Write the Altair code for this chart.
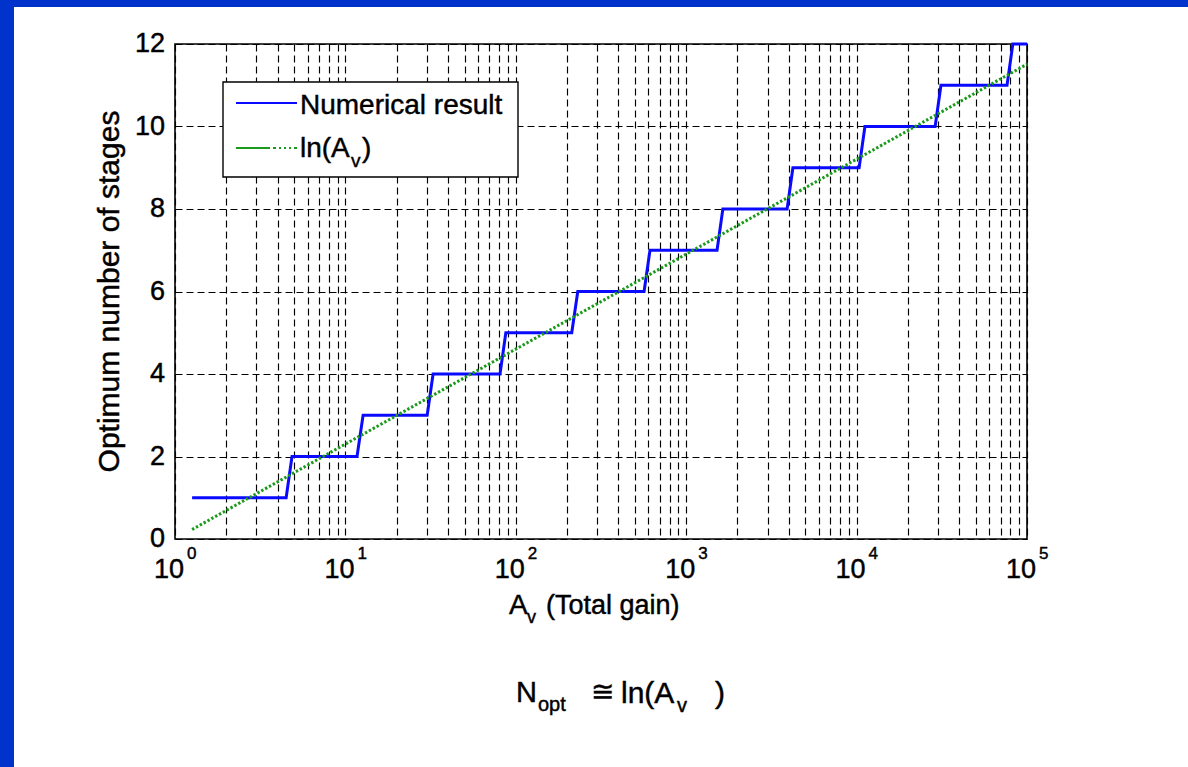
import altair as alt
import pandas as pd

# ---------------- data ----------------
# Numerical result (staircase), total gain vs optimum number of stages
step_gain = [1.26, 4.49, 4.86, 11.7, 12.7, 30.2, 32.7, 80.8, 87.4, 213, 231,
             566, 613, 1517, 1641, 3910, 4229, 10346, 11190, 28900, 31260,
             76350, 82580, 100000]
step_stages = [1, 1, 2, 2, 3, 3, 4, 4, 5, 5, 6, 6, 7, 7, 8, 8, 9, 9, 10, 10,
               11, 11, 12, 12]

# ln(Av) reference line (straight on a log-x axis): end points
ln_gain = [1.26, 100000]
ln_stages = [0.23, 11.51]

# axis ticks
x_tick_values = [1, 2, 3, 4, 5, 6, 7, 8, 9,
                 10, 20, 30, 40, 50, 60, 70, 80, 90,
                 100, 200, 300, 400, 500, 600, 700, 800, 900,
                 1000, 2000, 3000, 4000, 5000, 6000, 7000, 8000, 9000,
                 10000, 20000, 30000, 40000, 50000, 60000, 70000, 80000, 90000,
                 100000]
decade_values = [1, 10, 100, 1000, 10000, 100000]
decade_base = ["10", "10", "10", "10", "10", "10"]
decade_exponents = ["0", "1", "2", "3", "4", "5"]
y_tick_values = [0, 2, 4, 6, 8, 10, 12]
y_tick_labels = ["0", "2", "4", "6", "8", "10", "12"]

# ---------------- layout ----------------
FONT = "Liberation Sans"
L, T = 175, 44          # plot area origin in the page
W, H = 852, 495         # plot area size
PAGE_W, PAGE_H = 1188, 767
BLUE_BG = "#0033CC"
TXT_STROKE = 0.45       # slight emboldening, like the rasterised original

step_df = pd.DataFrame({"gain": step_gain, "stages": step_stages,
                        "order": list(range(len(step_gain)))})
ln_df = pd.DataFrame({"gain": ln_gain, "stages": ln_stages,
                      "order": list(range(len(ln_gain)))})
dec_df = pd.DataFrame({"gain": decade_values, "base": decade_base,
                       "exp": decade_exponents})
ytk_df = pd.DataFrame({"stages": y_tick_values, "lab": y_tick_labels})

x_scale = alt.Scale(type="log", domain=[1, 100000], nice=False)
y_scale = alt.Scale(domain=[0, 12], nice=False, zero=False)

x_axis = alt.Axis(
    values=x_tick_values, labels=False,
    title=None, grid=True, gridDash=[7, 4], gridColor="#000000", gridWidth=1.15,
    gridOpacity=1, ticks=False, tickSize=0, domain=False,
)
y_axis = alt.Axis(
    values=y_tick_values, labels=False,
    title=None, grid=True, gridDash=[7, 4], gridColor="#000000", gridWidth=1.15,
    gridOpacity=1, ticks=False, tickSize=0, domain=False,
)

X_ENC = alt.X("gain:Q", scale=x_scale, axis=x_axis)
Y_ENC = alt.Y("stages:Q", scale=y_scale, axis=y_axis)

blue_line = alt.Chart(step_df).mark_line(
    color="#0A0AFF", strokeWidth=3
).encode(x=X_ENC, y=Y_ENC, order="order:Q")

green_line = alt.Chart(ln_df).mark_line(
    color="#1A9A1A", strokeWidth=3, strokeDash=[2.4, 2], strokeCap="butt"
).encode(x=X_ENC, y=Y_ENC, order="order:Q")

TXT_KW = dict(font=FONT, color="#000000", stroke="#000000", strokeWidth=TXT_STROKE)

# x tick labels: "10" plus raised exponent, positioned through the x scale
dec_base = alt.Chart(dec_df).mark_text(
    fontSize=27, align="center", baseline="alphabetic", dx=-6, **TXT_KW
).encode(x=X_ENC, y=alt.value(578 - T), text="base:N")
dec_exp = alt.Chart(dec_df).mark_text(
    fontSize=17, align="left", baseline="alphabetic", dx=12, **TXT_KW
).encode(x=X_ENC, y=alt.value(559 - T), text="exp:N")

# y tick labels, positioned through the y scale
y_labels = alt.Chart(ytk_df).mark_text(
    fontSize=27, align="right", baseline="middle", **TXT_KW
).encode(x=alt.value(-10), y=Y_ENC, text="lab:N")


def one():
    return alt.Data(values=[{"k": 0}])


def txt(s, X, Y, size, align="left", baseline="alphabetic", angle=0):
    return alt.Chart(one()).mark_text(
        text=s, fontSize=size, align=align, baseline=baseline, angle=angle, **TXT_KW
    ).encode(x=alt.value(X - L), y=alt.value(Y - T))


def rect(X1, X2, Y1, Y2, fill, stroke=None, sw=0):
    kw = dict(fill=fill, strokeWidth=sw)
    if stroke:
        kw["stroke"] = stroke
    return alt.Chart(one()).mark_rect(**kw).encode(
        x=alt.value(X1 - L), x2=alt.value(X2 - L),
        y=alt.value(Y1 - T), y2=alt.value(Y2 - T))


def hline(X1, X2, Y, color, width, dash=None):
    kw = dict(color=color, strokeWidth=width)
    if dash:
        kw["strokeDash"] = dash
    return alt.Chart(one()).mark_rule(**kw).encode(
        x=alt.value(X1 - L), x2=alt.value(X2 - L), y=alt.value(Y - T))


# legend box
legend = [
    rect(223, 518, 82, 177, "#FFFFFF", "#000000", 1.4),
    hline(236, 297, 103, "#0A0AFF", 2),
    hline(236, 297, 148, "#1A9A1A", 2, [34, 3, 3, 3, 2, 3, 2, 3, 2, 3]),
    txt("Numerical result", 300, 114, 28),
    txt("ln(A", 300, 157, 28),
    txt("v", 351, 167, 19),
    txt(")", 362, 157, 28),
]

# axis titles
titles = [
    txt("Optimum number of stages", 110, (T + T + H) / 2, 30,
        align="center", baseline="middle", angle=270),
    txt("A", 509, 614, 28),
    txt("v", 527, 623, 18),
    txt("(Total gain)", 546, 614, 27),
]

# formula below the chart
formula = [
    txt("N", 516, 702, 29),
    txt("opt", 538, 711, 20),
    txt("\u2245", 591, 701, 28),
    txt("ln(A", 621, 703, 30),
    txt("v", 677, 712, 20),
    txt(")", 715, 703, 30),
]

# slide border (blue bands)
bands = [
    rect(0, 14, 0, PAGE_H, BLUE_BG),
    rect(0, PAGE_W, 0, 7, BLUE_BG),
]

chart = alt.layer(
    blue_line, green_line, *legend, dec_base, dec_exp, y_labels,
    *titles, *formula, *bands
).properties(
    width=W, height=H,
    autosize=alt.AutoSizeParams(type="none"),
    padding={"left": L, "top": T, "right": PAGE_W - L - W, "bottom": PAGE_H - T - H},
    background="#FFFFFF",
).configure_view(
    stroke="#000000", strokeWidth=1.6
)

chart.save("out.html", embed_options={"renderer": "svg", "actions": False})
